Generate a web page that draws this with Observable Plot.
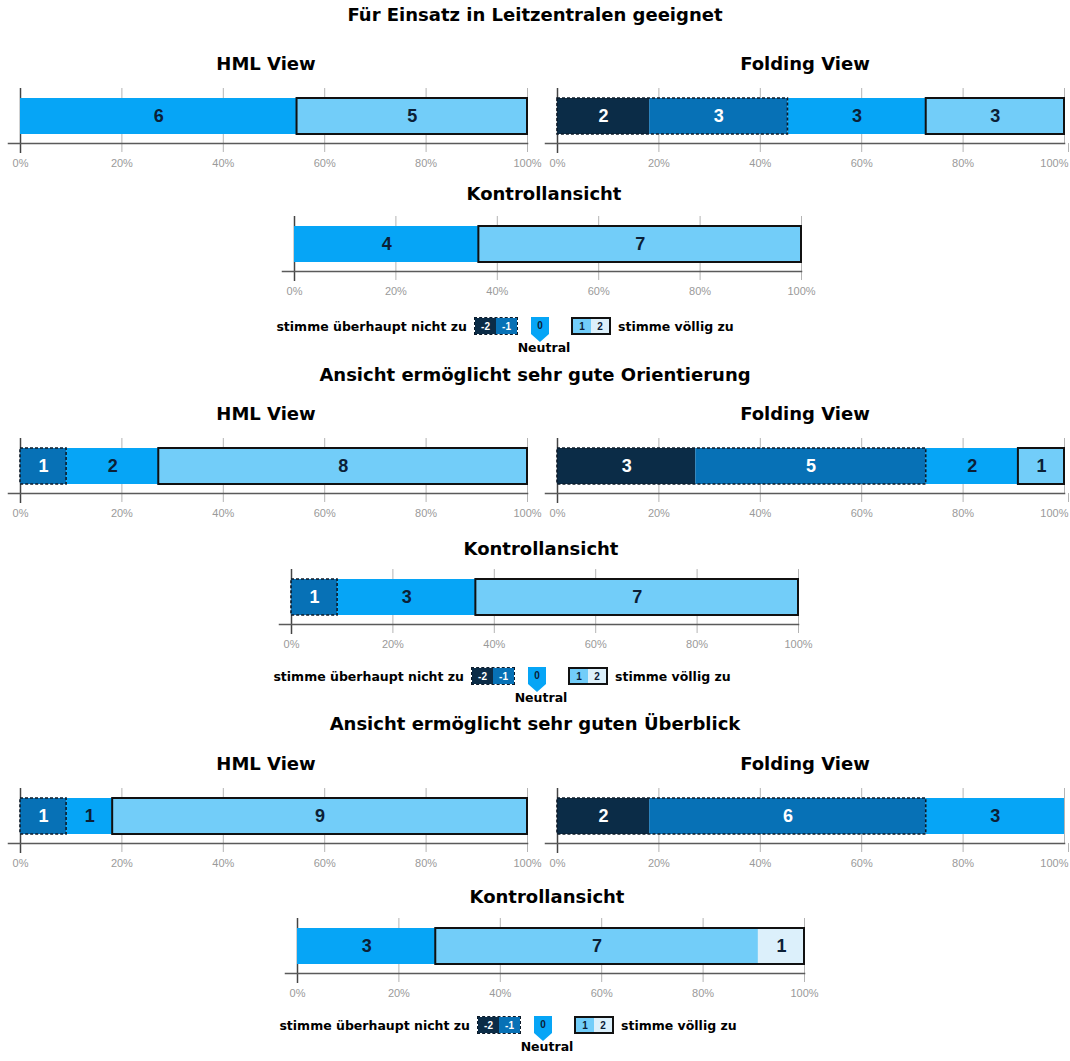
<!DOCTYPE html>
<html><head><meta charset="utf-8">
<script src="https://cdn.jsdelivr.net/npm/d3@7"></script>
<script src="https://cdn.jsdelivr.net/npm/@observablehq/plot@0.6"></script>
<style>
body{margin:0;background:#fff;}
#root{position:relative;width:1070px;height:1061px;overflow:hidden;background:#fff;font-family:"DejaVu Sans",sans-serif;}
.title{position:absolute;font-weight:bold;font-size:18px;color:#000;white-space:nowrap;transform:translate(-50%,-50%);}
.plotwrap{position:absolute;width:560px;}
.plotwrap svg{max-width:none !important;}
.legtext{position:absolute;font-weight:bold;font-size:12.5px;color:#000;white-space:nowrap;transform:translateY(-50%);}
.legbox{position:absolute;display:flex;box-sizing:border-box;}
.legcell{flex:1;display:flex;align-items:center;justify-content:center;font-family:"Liberation Sans",sans-serif;font-weight:bold;font-size:10px;}
.neutral{position:absolute;box-sizing:border-box;display:flex;justify-content:center;padding-top:3px;font-family:"Liberation Sans",sans-serif;font-weight:bold;font-size:10px;clip-path:polygon(0 0,100% 0,100% 68%,50% 100%,0 68%);}
</style></head><body><div id="root"></div>
<script>
// ---- data ----
const levels = ["-2", "-1", "0", "1", "2"];
const levelColors = ["#0b2c47", "#0771b6", "#06a5f6", "#72cdf9", "#dcf0fb"];
const questions = [
  "Für Einsatz in Leitzentralen geeignet",
  "Ansicht ermöglicht sehr gute Orientierung",
  "Ansicht ermöglicht sehr guten Überblick"
];
const views = ["HML View", "Folding View", "Kontrollansicht"];
// counts per level (-2, -1, 0, 1, 2)
const q1HML = [0, 0, 6, 5, 0];
const q1Folding = [2, 3, 3, 3, 0];
const q1Kontroll = [0, 0, 4, 7, 0];
const q2HML = [0, 1, 2, 8, 0];
const q2Folding = [3, 5, 2, 1, 0];
const q2Kontroll = [0, 1, 3, 7, 0];
const q3HML = [0, 1, 1, 9, 0];
const q3Folding = [2, 6, 3, 0, 0];
const q3Kontroll = [0, 0, 3, 7, 1];
const tickValues = [0, 0.2, 0.4, 0.6, 0.8, 1];
const legendLow = "stimme überhaupt nicht zu";
const legendHigh = "stimme völlig zu";
const legendNeutral = "Neutral";

const counts = [[q1HML, q1Folding, q1Kontroll], [q2HML, q2Folding, q2Kontroll], [q3HML, q3Folding, q3Kontroll]];

// ---- layout ----
const blocks = [
  {titleY: 14, subY: 63, rowTop: 88, kSubY: 193, kTop: 216, k0: 294, legY: 326},
  {titleY: 374, subY: 413, rowTop: 438, kSubY: 548, kTop: 569, k0: 291, legY: 676},
  {titleY: 723, subY: 763, rowTop: 788, kSubY: 896, kTop: 918, k0: 297, legY: 1025}
];
const root = document.getElementById("root");
const labelFont = "Liberation Sans, Arial, sans-serif";
const darkText = "#0b2036";

function el(cls, style, text) {
  const d = document.createElement("div");
  d.className = cls;
  Object.assign(d.style, style);
  if (text != null) d.textContent = text;
  root.appendChild(d);
  return d;
}

function barPlot(view, c, clampRight) {
  const data = levels.map((level, i) => ({view, level, count: c[i],
    group: +level < 0 ? "neg" : +level > 0 ? "pos" : "neu"})).filter(d => d.count > 0);
  const groups = d3.rollups(data, v => d3.sum(v, d => d.count), d => d.group)
    .map(([group, count]) => ({view, group, count}));
  const neg = d => +d.level < 0;
  const axisOpts = {tickFormat: d3.format(".0%"), tickSize: 9, tickPadding: 7,
    stroke: "#b4b4b4", fill: "#9a9a9a", fontSize: 11, fontFamily: labelFont, label: null};
  const axes = clampRight
    ? [Plot.axisX(tickValues.slice(0, -1), axisOpts),
       Plot.axisX(tickValues.slice(-1), {...axisOpts, textAnchor: "end", dx: 4})]
    : [Plot.axisX(tickValues, axisOpts)];
  return Plot.plot({
    width: 543, height: 85,
    marginLeft: 20, marginRight: 16, marginTop: 0, marginBottom: 30,
    style: {background: "transparent", overflow: "visible", maxWidth: "none"},
    x: {domain: [0, 1], label: null},
    y: {domain: [view], axis: null, padding: 0.2},
    color: {domain: levels, range: levelColors},
    opacity: {domain: [0, 1], range: [0, 1]},
    marks: [
      Plot.gridX(tickValues, {stroke: "#b4b4b4", strokeOpacity: 1}),
      ...axes,
      Plot.ruleX([0], {stroke: "#444", strokeWidth: 1.5, insetBottom: -10}),
      Plot.barX(data, Plot.stackX({x: "count", y: "view", fill: "level", offset: "normalize"})),
      Plot.barX(groups, Plot.stackX({x: "count", y: "view", offset: "normalize", fill: "none",
        stroke: "#0d1b2a", strokeWidth: 1.6, strokeDasharray: "3,2",
        strokeOpacity: d => d.group === "neg" ? 1 : 0})),
      Plot.barX(groups, Plot.stackX({x: "count", y: "view", offset: "normalize", fill: "none",
        stroke: "#111", strokeWidth: 2, strokeOpacity: d => d.group === "pos" ? 1 : 0})),
      Plot.text(data, Plot.stackX({x: "count", y: "view", offset: "normalize", text: "count",
        fill: darkText, fillOpacity: d => neg(d) ? 0 : 1, fontSize: 18, fontWeight: "bold", fontFamily: labelFont})),
      Plot.text(data, Plot.stackX({x: "count", y: "view", offset: "normalize", text: "count",
        fill: "white", fillOpacity: d => neg(d) ? 1 : 0, fontSize: 18, fontWeight: "bold", fontFamily: labelFont})),
      Plot.frame({anchor: "bottom", stroke: "#5a5a5a", strokeWidth: 1.5, insetLeft: -12})
    ]
  });
}

function legend(k0, cy) {
  el("legtext", {right: (1070 - (k0 + 173)) + "px", top: cy + "px"}, legendLow);
  const nb = el("legbox", {left: (k0 + 180) + "px", top: (cy - 9) + "px", width: "44px", height: "18px",
    border: "1.5px dashed #0d1b2a"});
  [0, 1].forEach(i => {
    const c = document.createElement("div");
    c.className = "legcell";
    c.style.background = levelColors[i];
    c.style.color = "#fff";
    c.textContent = levels[i];
    nb.appendChild(c);
  });
  el("neutral", {left: (k0 + 237) + "px", top: (cy - 9) + "px", width: "18px", height: "25px",
    background: levelColors[2], color: darkText}, levels[2]);
  const pb = el("legbox", {left: (k0 + 277) + "px", top: (cy - 9) + "px", width: "40px", height: "18px",
    border: "2px solid #111"});
  [3, 4].forEach(i => {
    const c = document.createElement("div");
    c.className = "legcell";
    c.style.background = levelColors[i];
    c.style.color = darkText;
    c.textContent = levels[i];
    pb.appendChild(c);
  });
  el("legtext", {left: (k0 + 324) + "px", top: cy + "px"}, legendHigh);
  el("legtext", {left: (k0 + 250) + "px", top: (cy + 21) + "px", transform: "translate(-50%,-50%)"}, legendNeutral);
}

blocks.forEach((b, qi) => {
  el("title", {left: "535px", top: b.titleY + "px"}, questions[qi]);
  const pos = [
    {left: 0, top: b.rowTop, subX: 266, subY: b.subY, clamp: false},
    {left: 537, top: b.rowTop, subX: 805, subY: b.subY, clamp: true},
    {left: b.k0 - 20, top: b.kTop, subX: b.k0 + 250, subY: b.kSubY, clamp: false}
  ];
  views.forEach((v, vi) => {
    const p = pos[vi];
    el("title", {left: p.subX + "px", top: p.subY + "px"}, v);
    const w = el("plotwrap", {left: p.left + "px", top: p.top + "px"});
    w.appendChild(barPlot(v, counts[qi][vi], p.clamp));
  });
  legend(b.k0, b.legY);
});
</script></body></html>
